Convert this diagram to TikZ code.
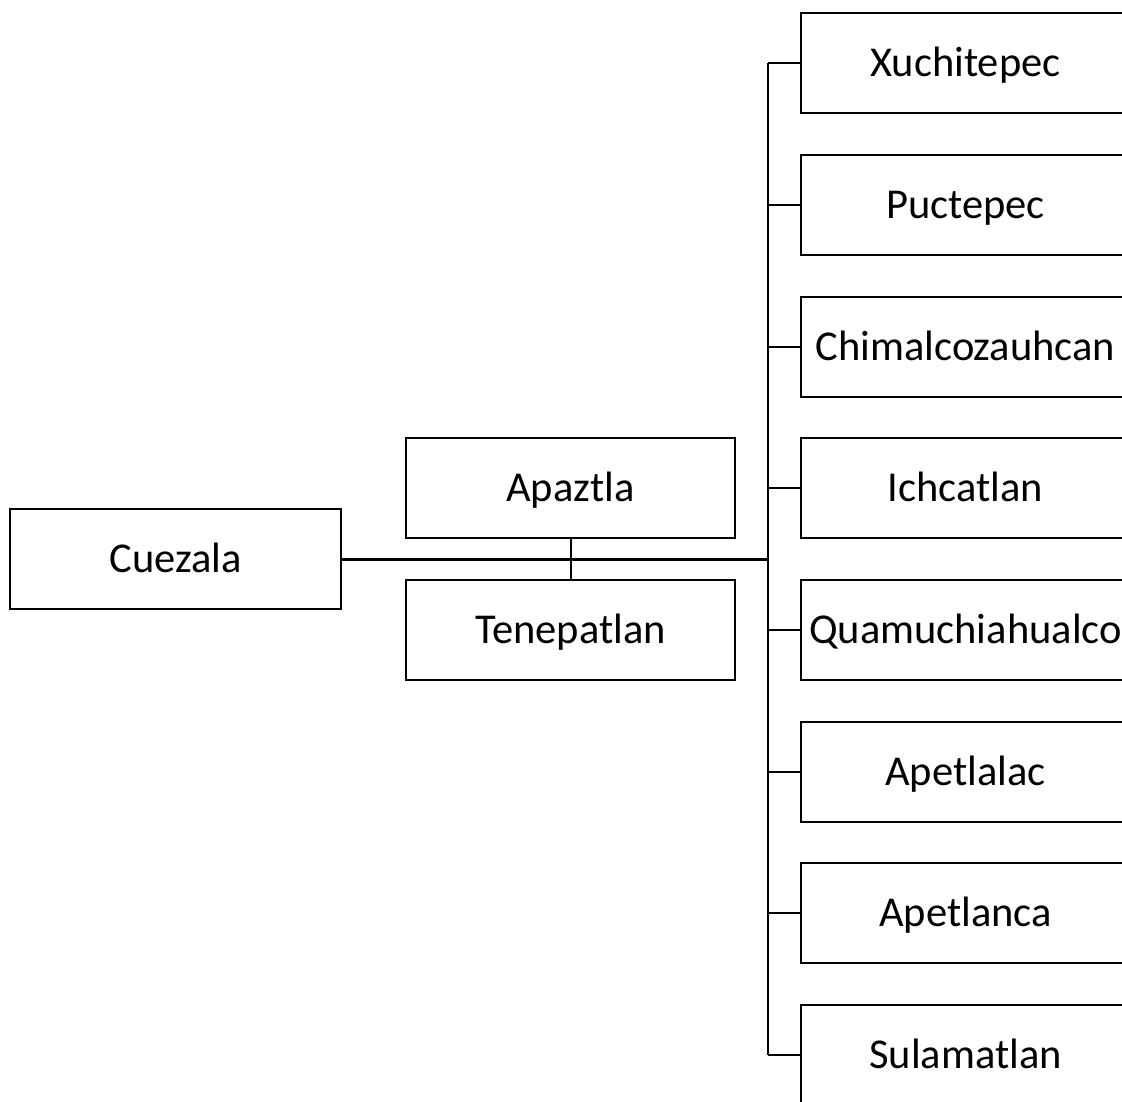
\documentclass[tikz,border=0pt]{standalone}
\usepackage{fontspec}
\setmainfont{Carlito}
\begin{document}
\begin{tikzpicture}[x=1pt,y=-1pt,
  box/.style={draw=black,line width=2pt,minimum width=329pt,minimum height=100pt,inner sep=0pt,text height=30pt,text depth=3pt,font=\fontsize{42.5}{50}\selectfont,anchor=center},
  link/.style={line width=2pt},
  mainlink/.style={line width=3pt}]
\useasboundingbox (0,0) rectangle (1122,1102);
\clip (0,0) rectangle (1122,1102);
\node[box,minimum width=331pt] (cu) at (175.5,559) {Cuezala};
\node[box] (ap) at (570.5,488) {Apaztla};
\node[box] (te) at (570.5,630) {Tenepatlan};
\node[box] (xu) at (965.5,63) {Xuchitepec};
\node[box] (pu) at (965.5,205) {Puctepec};
\node[box] (ch) at (965.5,347) {Chimalcozauhcan};
\node[box] (ic) at (965.5,488) {Ichcatlan};
\node[box] (qu) at (965.5,630) {Quamuchiahualco};
\node[box] (al) at (965.5,772) {Apetlalac};
\node[box] (an) at (965.5,913) {Apetlanca};
\node[box] (su) at (965.5,1055) {Sulamatlan};
\coordinate (t) at (768,559);
\draw[link] (ap.south) -- (te.north);
\draw[link] (t |- xu.west) -- (t |- su.west);
\foreach \n in {xu,pu,ch,ic,qu,al,an,su} {
  \draw[link] (t |- \n.west) -- (\n.west);
}
\draw[mainlink] (cu.east) -- (t);
\end{tikzpicture}
\end{document}
